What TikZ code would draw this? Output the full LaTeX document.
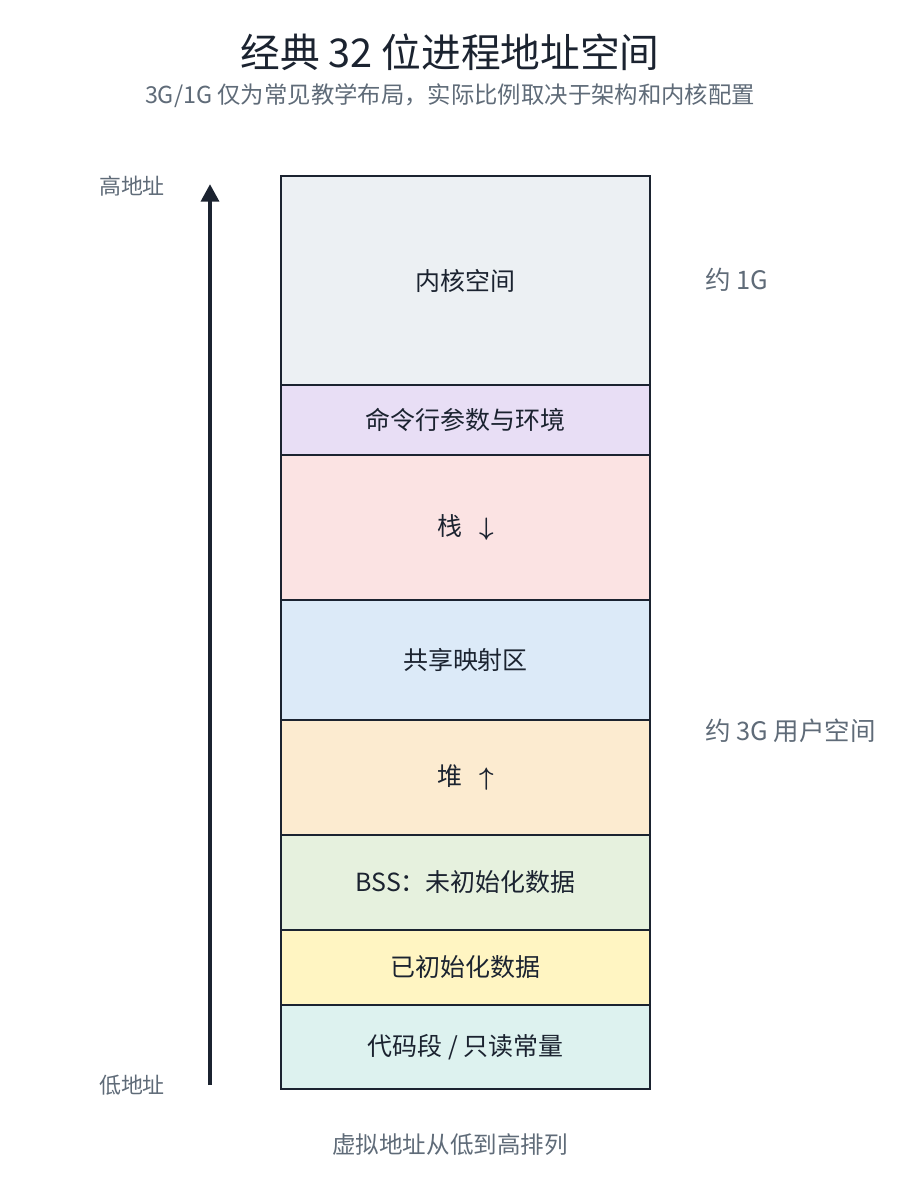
\documentclass[tikz,border=0pt]{standalone}
\usepackage{amsmath}
\usepackage{amsfonts}
\usepackage{fontspec}
\setmainfont{Noto Sans CJK SC}
\usetikzlibrary{positioning,arrows.meta}

\definecolor{inkdark}{HTML}{1B2330}
\definecolor{inkgray}{HTML}{5F6B78}
\definecolor{kernfill}{HTML}{ECF0F3}
\definecolor{argfill}{HTML}{E8DEF5}
\definecolor{stackfill}{HTML}{FBE3E3}
\definecolor{mmapfill}{HTML}{DCEAF8}
\definecolor{heapfill}{HTML}{FCEBD0}
\definecolor{bssfill}{HTML}{E6F1DE}
\definecolor{datafill}{HTML}{FFF5C2}
\definecolor{textfill}{HTML}{DDF2EF}

\begin{document}
\begin{tikzpicture}[x=0.02cm,y=-0.02cm,
    seg/.style={draw=inkdark,line width=1.6pt,minimum width=369*0.02cm,
      inner sep=0pt,font=\fontsize{14.2}{17}\selectfont,text=inkdark},
    note/.style={text=inkgray,font=\fontsize{14.5}{17}\selectfont},
    addr/.style={text=inkgray,font=\fontsize{12.5}{15}\selectfont}]
    \useasboundingbox (0,0) rectangle (900,1200);
            % title
            \node[text=inkdark,font=\fontsize{22.6}{27}\selectfont] (title) at (450,52) {经典 32 位进程地址空间};
            \node[text=inkgray,font=\fontsize{13.3}{16}\selectfont] (subtitle) at (450,96) {3G/1G 仅为常见教学布局，实际比例取决于架构和内核配置};
            % segments, top to bottom
            \node[seg,fill=kernfill,minimum height=209*0.02cm] (kern) at (465.5,280.5) {内核空间};
            \node[seg,fill=argfill,minimum height=70*0.02cm] (args) at (465.5,420) {命令行参数与环境};
            \node[seg,fill=stackfill,minimum height=145*0.02cm] (stack) at (465.5,527.5) {栈\ \ \ $\boldsymbol{\downarrow}$};
            \node[seg,fill=mmapfill,minimum height=120*0.02cm] (mmap) at (465.5,660) {共享映射区};
            \node[seg,fill=heapfill,minimum height=115*0.02cm] (heap) at (465.5,777.5) {堆\ \ \ $\boldsymbol{\uparrow}$};
            \node[seg,fill=bssfill,minimum height=95*0.02cm] (bss) at (465.5,882.5) {BSS：未初始化数据};
            \node[seg,fill=datafill,minimum height=75*0.02cm] (data) at (465.5,967.5) {已初始化数据};
            \node[seg,fill=textfill,minimum height=84*0.02cm] (text) at (465.5,1047) {代码段 / 只读常量};
            % address arrow
            \coordinate (low) at (210,1085);
            \coordinate (high) at (210,184);
            \draw[-{Triangle[length=10pt,width=10pt]},line width=2.6pt,draw=inkdark] (low) -- (high);
            \node[addr] (hi) at (132,186) {高地址};
            \node[addr] (lo) at (132,1085) {低地址};
            % sizes
            \node[note,anchor=west] (kgb) at (699,280) {约 1G};
            \node[note,anchor=west] (ugb) at (699,731) {约 3G 用户空间};
            \node[text=inkgray,font=\fontsize{13.4}{16}\selectfont] (foot) at (450,1145) {虚拟地址从低到高排列};
\end{tikzpicture}
\end{document}
